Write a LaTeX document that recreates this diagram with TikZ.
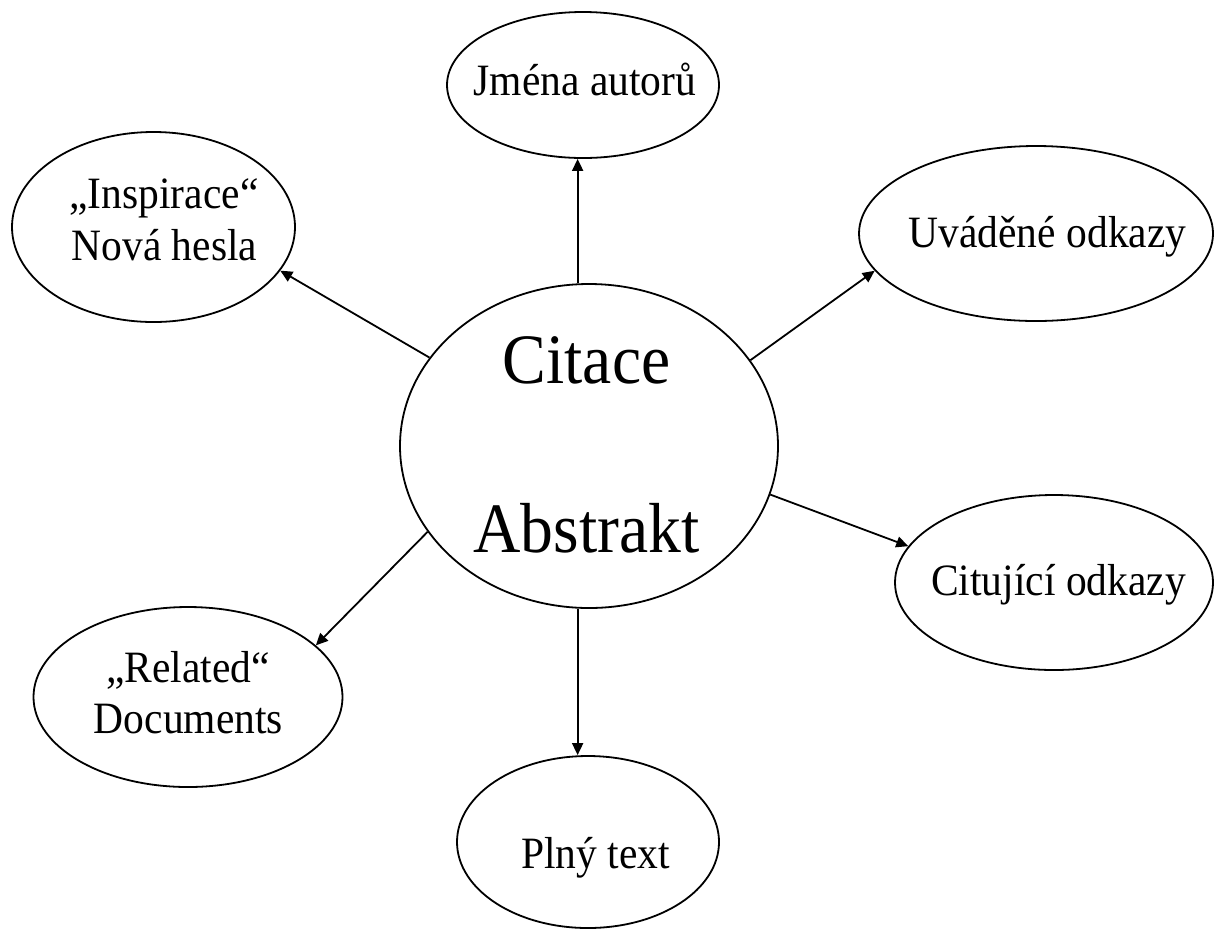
\documentclass[tikz,border=0pt]{standalone}
\usepackage{fontspec}
\setmainfont{Liberation Serif}
\usetikzlibrary{shapes.geometric,arrows.meta}
\newcommand{\tallt}[1]{\scalebox{1}[1.08]{#1}}
\begin{document}
\begin{tikzpicture}[x=0.5pt,y=-0.5pt,
  oval/.style={draw,ellipse,line width=0.9pt,inner sep=0pt},
  lbl/.style={anchor=base,inner sep=0pt,font=\fontsize{20.75pt}{26pt}\selectfont},
  big/.style={anchor=base,inner sep=0pt,font=\fontsize{32.8pt}{40pt}\selectfont},
  arr/.style={-{Triangle[length=6pt,width=5.5pt]},line width=0.9pt}]
\useasboundingbox (0,0) rectangle (1214,928);
% ellipses
\node[oval,minimum width=189pt,minimum height=162pt] (c) at (589,446) {};
\node[oval,minimum width=136pt,minimum height=73pt] (j) at (583,85) {};
\node[oval,minimum width=141.5pt,minimum height=95pt] (ins) at (153.5,227) {};
\node[oval,minimum width=177pt,minimum height=87.5pt] (uv) at (1036,233.5) {};
\node[oval,minimum width=159pt,minimum height=87.5pt] (cit) at (1054,582.5) {};
\node[oval,minimum width=154.5pt,minimum height=90pt] (rel) at (188,697) {};
\node[oval,minimum width=131pt,minimum height=86pt] (pl) at (588,842) {};
% texts
\node[big] (ci) at (586.5,383) {\tallt{Citace}};
\node[big] (ab) at (586.5,552) {\tallt{Abstrakt}};
\node[lbl] (jt) at (585,95) {\tallt{Jména autorů}};
\node[lbl] (it1) at (164,208) {\tallt{„Inspirace“}};
\node[lbl] (it2) at (164.5,260) {\tallt{Nová hesla}};
\node[lbl] (ut) at (1047.5,247) {\tallt{Uváděné odkazy}};
\node[lbl] (ct) at (1058.5,595) {\tallt{Citující odkazy}};
\node[lbl] (rt1) at (188,682) {\tallt{„Related“}};
\node[lbl] (rt2) at (188.5,733) {\tallt{Documents}};
\node[lbl] (pt) at (595.5,868) {\tallt{Plný text}};
% arrows
\draw[arr] (c.94) -- (c.94 |- j.south);
\draw[arr] (c.151) -- (ins.-19);
\draw[arr] (c.28) -- (uv.193);
\draw[arr] (c.-15) -- (cit.166);
\draw[arr] (c.208) -- (rel.22);
\draw[arr] (c.266) -- (c.266 |- pl.north);
\end{tikzpicture}
\end{document}
